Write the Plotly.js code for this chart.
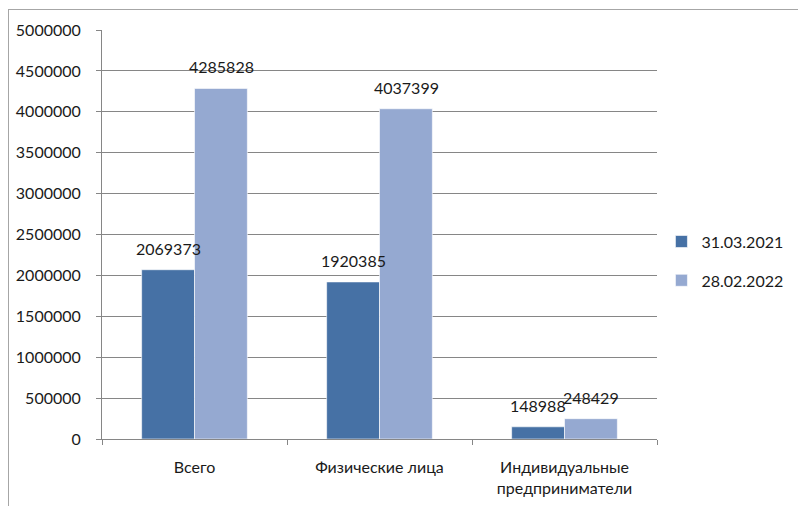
<!DOCTYPE html>
<html>
<head>
<meta charset="utf-8">
<script src="https://cdn.plot.ly/plotly-3.0.1.min.js"></script>
<style>
  html, body { margin: 0; padding: 0; background: #fff; }
  #chart { position: absolute; left: 0; top: 0; width: 798px; height: 506px; }
  #frame { position: absolute; left: 8px; top: 9px; width: 800px; height: 510px;
           border-left: 1px solid #a6a6a6; border-top: 1px solid #a6a6a6; pointer-events: none; }
</style>
</head>
<body>
<div id="chart"></div>
<div id="frame"></div>
<script>
const categories = ["Всего", "Физические лица", "Индивидуальные<br>предприниматели"];
const seriesNames = ["31.03.2021", "28.02.2022"];
const values2021 = [2069373, 1920385, 148988];
const values2022 = [4285828, 4037399, 248429];
const yTicks = [0, 500000, 1000000, 1500000, 2000000, 2500000, 3000000, 3500000, 4000000, 4500000, 5000000];

const FONT = "Lato, 'Open Sans', sans-serif";
const colors = ["#4671A5", "#95A9D1"];

const traces = [values2021, values2022].map((vals, i) => ({
  type: "bar",
  name: seriesNames[i],
  x: categories,
  y: vals,
  marker: { color: colors[i], line: { color: "#ffffff", width: 0.6 } },
  legendgroup: "g" + i,
  text: vals.map(String),
  textposition: "none",
  hoverinfo: "skip"
}));

const annotations = [];
[values2021, values2022].forEach((vals, i) => {
  vals.forEach((v, j) => {
    annotations.push({
      x: categories[j], y: v, xref: "x", yref: "y",
      text: String(v), showarrow: false,
      xshift: i === 0 ? -26.5 : 26.5,
      yanchor: "bottom", yshift: 10,
      font: { family: FONT, size: 16, color: "#1a1a1a" }
    });
  });
});

const layout = {
  width: 798, height: 506,
  margin: { l: 102, r: 141, t: 30, b: 67, autoexpand: false },
  paper_bgcolor: "#ffffff", plot_bgcolor: "#ffffff",
  barmode: "group", bargap: 0.4286, bargroupgap: 0,
  font: { family: FONT, size: 16, color: "#1a1a1a" },
  showlegend: true,
  legend: {
    x: 1.008, xanchor: "left", y: 0.435, yanchor: "middle",
    font: { family: FONT, size: 16, color: "#1a1a1a" },
    tracegroupgap: 15, itemwidth: 30, bgcolor: "rgba(0,0,0,0)"
  },
  xaxis: {
    type: "category",
    showgrid: false, zeroline: false,
    showline: true, linecolor: "#868686", linewidth: 1,
    ticks: "outside", tickson: "boundaries", ticklen: 5, tickcolor: "#868686",
    ticklabelstandoff: 14,
    tickfont: { family: FONT, size: 16, color: "#1a1a1a" }
  },
  yaxis: {
    range: [0, 5000000],
    tickvals: yTicks, ticktext: yTicks.map(String),
    showgrid: true, gridcolor: "#868686", gridwidth: 1,
    zeroline: false,
    showline: true, linecolor: "#868686", linewidth: 1,
    ticks: "outside", ticklen: 5, tickcolor: "#868686",
    ticklabelstandoff: 12,
    tickfont: { family: FONT, size: 16, color: "#1a1a1a" }
  },
  annotations: annotations
};

Plotly.newPlot("chart", traces, layout, { displayModeBar: false, staticPlot: true });
</script>
</body>
</html>
